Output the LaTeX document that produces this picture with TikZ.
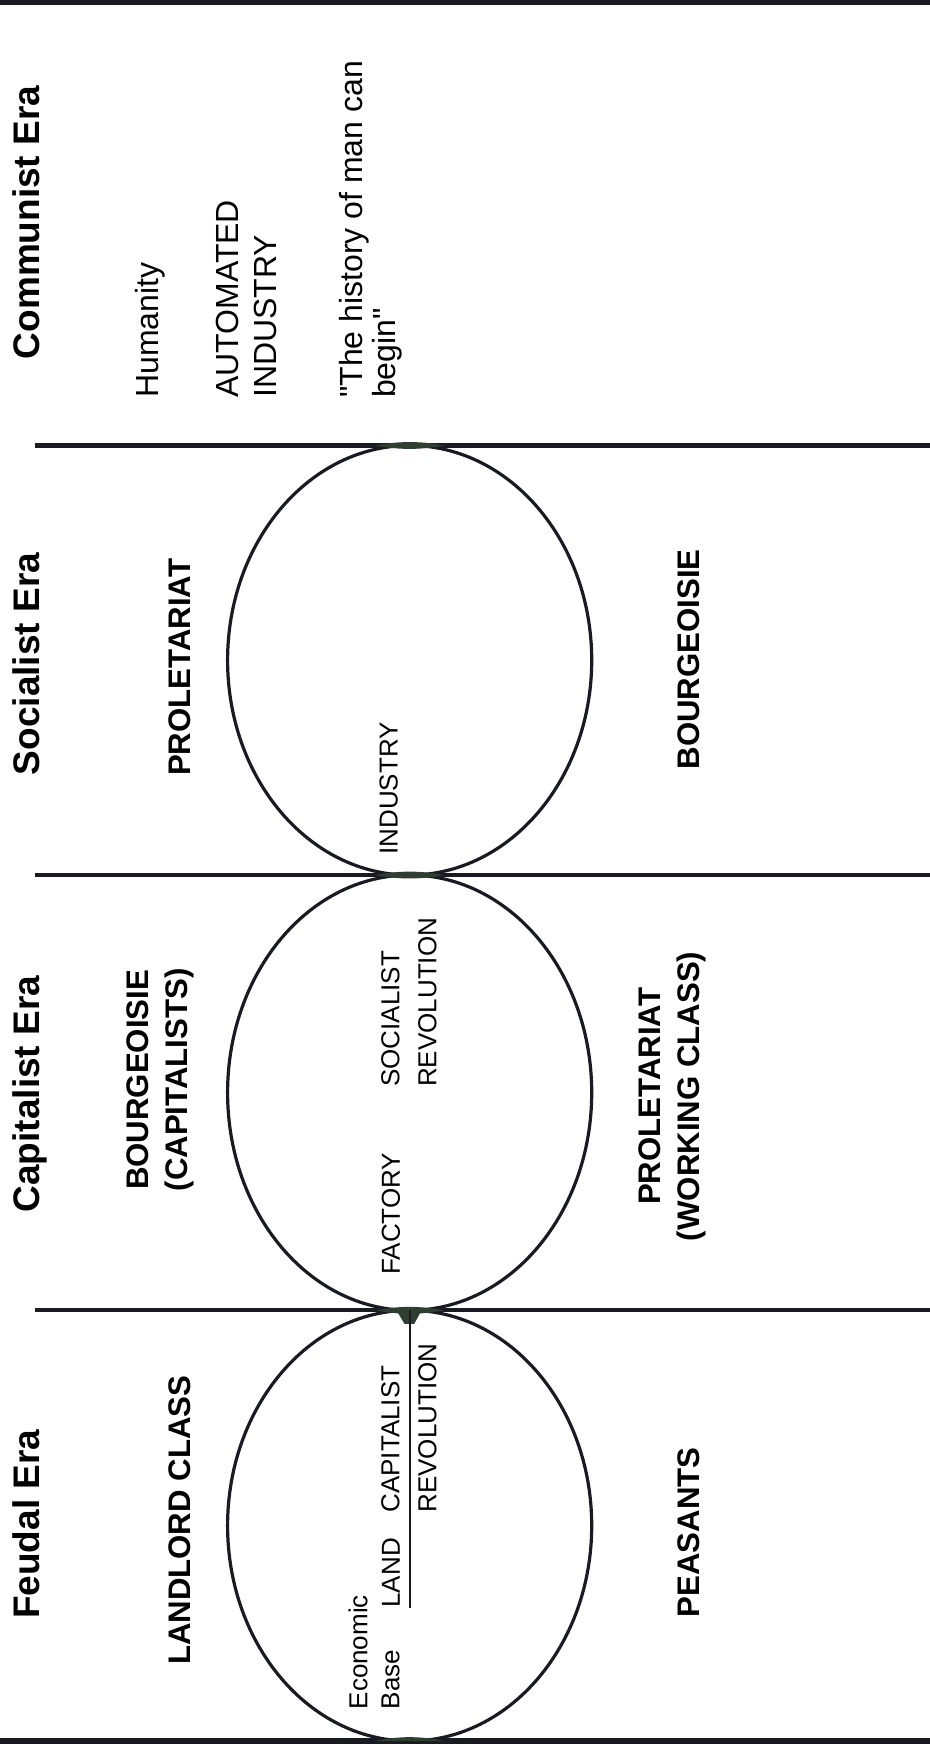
\documentclass[tikz,border=0pt]{standalone}
\usepackage{fontspec}
\setmainfont{Liberation Sans}[Ligatures=TeXOff]
\definecolor{lineInk}{HTML}{1A1A22}
\definecolor{blotInk}{HTML}{2F3E31}

\begin{document}
\begin{tikzpicture}[
  era/.style={rotate=90, inner sep=0pt, font=\fontsize{18.5}{22}\selectfont\bfseries},
  cls/.style={rotate=90, inner sep=0pt, align=center, font=\fontsize{15.6}{19.5}\selectfont\bfseries},
  core/.style={rotate=90, inner sep=0pt, align=left, font=\fontsize{13}{18.5}\selectfont},
  note/.style={rotate=90, inner sep=0pt, align=left, font=\fontsize{16}{19}\selectfont},
  bar/.style={line width=2.1pt, lineInk},
  border/.style={line width=2.6pt, lineInk},
  oval/.style={line width=1.6pt, lineInk},
  junc/.style={fill=blotInk},
  uline/.style={line width=0.9pt, lineInk},
]
\useasboundingbox (0,0) rectangle (16.34,30.67);
% ================= era dividers =================
\draw[border] (0,30.63) -- (16.34,30.63);
\draw[bar] (0.62,22.84) -- (16.34,22.84);
\draw[bar] (0.62,15.29) -- (16.34,15.29);
\draw[bar] (0.62,7.64) -- (16.34,7.64);
\draw[border] (0,0.07) -- (16.34,0.07);
% ================= economic base ovals =================
\draw[oval] (7.20,19.065) ellipse (3.2 and 3.775);
\draw[oval] (7.20,11.465) ellipse (3.2 and 3.825);
\draw[oval] (7.20,3.855) ellipse (3.2 and 3.785);
\coordinate (fTop) at (7.20,7.64);
% ink where the ovals touch the dividers
\fill[junc] (6.6,22.84) .. controls (7.0,22.92) and (7.4,22.92) .. (7.8,22.84) .. controls (7.4,22.76) and (7.0,22.76) .. (6.6,22.84);
\fill[junc] (6.6,15.29) .. controls (7.0,15.37) and (7.4,15.37) .. (7.8,15.29) .. controls (7.4,15.21) and (7.0,15.21) .. (6.6,15.29);
\fill[junc] (6.6,7.64) .. controls (7.0,7.72) and (7.4,7.72) .. (7.8,7.64) .. controls (7.4,7.56) and (7.0,7.56) .. (6.6,7.64);
\fill[junc] (6.6,0.07) .. controls (7.0,0.16) and (7.4,0.16) .. (7.8,0.07) -- cycle;
\fill[junc] (6.98,7.62) -- (7.40,7.62) -- (7.28,7.40) -- (7.11,7.40) -- cycle;
% ================= era titles =================
\node[era, anchor=base] (eraK) at (0.70,26.76) {Communist Era};
\node[era, anchor=base] (eraS) at (0.70,19.00) {Socialist Era};
\node[era, anchor=base] (eraC) at (0.70,11.44) {Capitalist Era};
\node[era, anchor=base] (eraF) at (0.70,3.88) {Feudal Era};
% ================= classes =================
\node[cls, anchor=base] (upF) at (3.34,3.95) {LANDLORD CLASS};
\node[cls, anchor=base] (lowF) at (12.30,3.74) {PEASANTS};
\node[cls, anchor=south] (upC) at (3.42,11.69) {BOURGEOISIE\\(CAPITALISTS)};
\node[cls, anchor=south] (lowC) at (12.42,11.40) {PROLETARIAT\\(WORKING CLASS)};
\node[cls, anchor=base] (upS) at (3.34,18.94) {PROLETARIAT};
\node[cls, anchor=base] (lowS) at (12.30,19.08) {BOURGEOISIE};
% ================= inside the ovals =================
\node[core, anchor=south west, font=\fontsize{13}{16}\selectfont] (ecoF) at (7.03,0.62) {Economic\\Base};
\node[core, anchor=base west] (land) at (7.03,2.41) {LAND};
\node[core, anchor=south west] (revF) at (7.68,4.08) {CAPITALIST\\REVOLUTION};
\draw[uline] (land.south west -| fTop) -- (fTop);
\node[core, anchor=base west] (fac) at (7.03,8.26) {FACTORY};
\node[core, anchor=south west] (revC) at (7.68,11.56) {SOCIALIST\\REVOLUTION};
\node[core, anchor=base west] (ind) at (6.99,15.64) {INDUSTRY};
% ================= communist era =================
\node[note, anchor=base west] (hum) at (2.78,23.67) {Humanity};
\node[note, anchor=south west] (auto) at (4.87,23.67) {AUTOMATED\\INDUSTRY};
\node[note, anchor=south west, font=\fontsize{16}{16.5}\selectfont] (hist) at (7.08,23.67) {"The history of man can\\begin"};
\end{tikzpicture}
\end{document}
